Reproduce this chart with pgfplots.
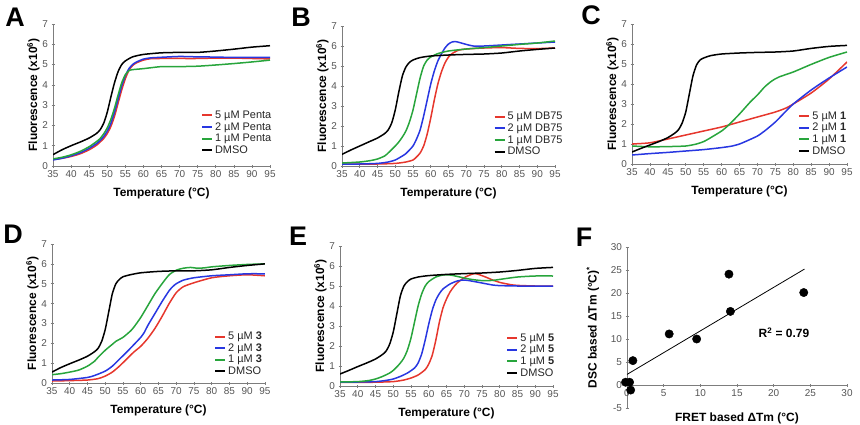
\documentclass[border=0pt]{standalone}
\usepackage{fontspec}
\setmainfont{Liberation Sans}
\usepackage{pgfplots}
\pgfplotsset{compat=1.18}
\definecolor{cred}{RGB}{230,55,45}
\definecolor{cblue}{RGB}{40,55,225}
\definecolor{cgreen}{RGB}{40,165,60}
\definecolor{axgray}{RGB}{125,125,125}
\definecolor{lblgray}{RGB}{85,85,85}
\pgfplotsset{
  base/.style={
    scale only axis,
    anchor=south west,
    axis line style={-, draw=axgray, line width=0.6bp},
    tick align=outside, major tick length=3bp,
    tick style={draw=axgray, line width=0.6bp},
    ticklabel style={font=\fontsize{10}{12}\selectfont, text=lblgray},
    /pgf/number format/assume math mode=true,
    label style={font=\bfseries\fontsize{12}{14}\selectfont, text=black},
  },
  panel/.style={
    base, width=214bp, height=140bp,
    axis lines=left,
    axis line style={-, draw=axgray, line width=0.6bp},
    xmin=35, xmax=95, ymin=0, ymax=7,
    xtick={35,40,...,95}, ytick={0,1,...,7},
    xlabel={Temperature (°C)},
    ylabel={Fluorescence (x10\textsuperscript{6})},
    xlabel shift=3bp, ylabel shift=-4bp,
    legend style={draw=none, fill=none, anchor=south east,
      font=\fontsize{11}{13.5}\selectfont, text=black!85, row sep=-1.5bp},
    legend cell align=left,
    legend image code/.code={\draw[##1, line width=2bp] (0bp,0bp) -- (10bp,0bp);},
  },
  curve/.style={line width=1.5bp, smooth, tension=0.4, no marks, #1},
}
\begin{document}
\begin{tikzpicture}
\useasboundingbox (0,0) rectangle (860bp,-425bp);
\tikzset{letter/.style={font=\bfseries\fontsize{27}{27}\selectfont}}
\node[letter] at (15bp,-17bp) {A};
\node[letter] at (301bp,-17bp) {B};
\node[letter] at (591bp,-15bp) {C};
\node[letter] at (13bp,-234bp) {D};
\node[letter] at (298bp,-236bp) {E};
\node[letter] at (584bp,-237bp) {F};

% ---------------- A
\begin{axis}[panel, at={(53bp,-166bp)}, height=142bp, width=217bp,
  legend style={at={(1.03,0.05)}}]
\addplot[curve=cred] coordinates {(35,0.32)(37.5,0.38)(40,0.47)(42.5,0.6)(45,0.8)(47,1.02)(48,1.18)(49,1.35)(50,1.6)(51,1.95)(52,2.45)(53,3.1)(54,3.75)(55,4.3)(56,4.72)(57,4.95)(58,5.08)(60,5.22)(62,5.29)(65,5.3)(70,5.3)(75,5.3)(80,5.32)(85,5.32)(90,5.3)(95,5.28)};
\addlegendentry{5 µM Penta}
\addplot[curve=cblue] coordinates {(35,0.3)(37.5,0.38)(40,0.5)(42.5,0.65)(45,0.87)(47,1.1)(48,1.25)(49,1.45)(50,1.72)(51,2.1)(52,2.65)(53,3.3)(54,3.95)(55,4.45)(56,4.8)(57,5.0)(58,5.12)(60,5.27)(62,5.33)(65,5.36)(70,5.4)(75,5.38)(80,5.37)(85,5.35)(90,5.35)(95,5.35)};
\addlegendentry{2 µM Penta}
\addplot[curve=cgreen] coordinates {(35,0.35)(37.5,0.43)(40,0.55)(42.5,0.72)(45,0.95)(47,1.2)(48,1.35)(49,1.58)(50,1.88)(51,2.3)(52,2.85)(53,3.5)(54,4.1)(55,4.5)(56,4.7)(57,4.75)(60,4.8)(65,4.9)(70,4.9)(75,4.92)(80,4.98)(85,5.05)(90,5.13)(95,5.22)};
\addlegendentry{1 µM Penta}
\addplot[curve=black] coordinates {(35,0.56)(37.5,0.8)(40,1.0)(42.5,1.18)(45,1.38)(47,1.6)(48,1.78)(49,2.1)(50,2.65)(51,3.4)(52,4.1)(53,4.65)(54,5.0)(55,5.18)(57,5.38)(60,5.5)(65,5.58)(70,5.6)(75,5.6)(80,5.67)(85,5.76)(90,5.86)(95,5.93)};
\addlegendentry{DMSO}
\end{axis}

% ---------------- B
\begin{axis}[panel, at={(342bp,-166bp)}, width=213bp,
  legend style={at={(1.06,0.04)}}]
\addplot[curve=cred] coordinates {(35,0.1)(40,0.1)(45,0.1)(50,0.13)(53,0.2)(55,0.3)(56,0.45)(57,0.65)(58,1.0)(59,1.6)(60,2.4)(61,3.3)(62,4.1)(63,4.7)(64,5.15)(65,5.45)(66,5.62)(67,5.72)(68,5.8)(70,5.85)(75,5.9)(80,5.92)(85,5.88)(90,5.87)(95,5.9)};
\addlegendentry{5 µM DB75}
\addplot[curve=cblue] coordinates {(35,0.1)(40,0.1)(45,0.13)(48,0.2)(50,0.3)(52,0.5)(53,0.62)(54,0.8)(55,1.0)(56,1.35)(57,1.8)(58,2.5)(59,3.3)(60,4.1)(61,4.75)(62,5.25)(63,5.6)(64,5.9)(65,6.1)(66,6.2)(67,6.22)(68,6.18)(70,6.08)(72,6.0)(75,6.0)(80,6.05)(85,6.1)(90,6.15)(95,6.2)};
\addlegendentry{2 µM DB75}
\addplot[curve=cgreen] coordinates {(35,0.15)(40,0.2)(43,0.27)(45,0.35)(47,0.5)(48,0.65)(49,0.82)(50,1.0)(51,1.2)(52,1.45)(53,1.75)(54,2.2)(55,2.8)(56,3.6)(57,4.4)(58,5.0)(59,5.3)(60,5.45)(62,5.62)(65,5.75)(70,5.85)(75,5.92)(80,6.0)(85,6.08)(90,6.15)(95,6.25)};
\addlegendentry{1 µM DB75}
\addplot[curve=black] coordinates {(35,0.58)(37.5,0.8)(40,1.0)(42.5,1.2)(45,1.4)(47,1.62)(48,1.8)(49,2.15)(50,2.8)(51,3.7)(52,4.5)(53,4.95)(54,5.18)(55,5.3)(57,5.42)(60,5.5)(65,5.55)(70,5.58)(75,5.6)(80,5.65)(85,5.75)(90,5.83)(95,5.9)};
\addlegendentry{DMSO}
\end{axis}

% ---------------- C
\begin{axis}[panel, at={(632bp,-164bp)}, width=215bp,
  legend style={at={(1.02,0.03)}}]
\addplot[curve=cred] coordinates {(35,1.0)(40,1.06)(45,1.25)(50,1.45)(55,1.65)(60,1.85)(65,2.1)(70,2.35)(75,2.6)(78,2.8)(80,3.0)(85,3.55)(90,4.25)(95,5.1)};
\addlegendentry{5 µM \textbf{1}}
\addplot[curve=cblue] coordinates {(35,0.45)(40,0.52)(45,0.58)(50,0.65)(55,0.72)(60,0.82)(63,0.9)(65,1.0)(67,1.15)(70,1.4)(72,1.65)(75,2.1)(78,2.65)(80,3.0)(85,3.7)(90,4.3)(95,4.85)};
\addlegendentry{2 µM \textbf{1}}
\addplot[curve=cgreen] coordinates {(35,0.9)(40,0.86)(45,0.87)(50,0.9)(53,1.0)(55,1.12)(57,1.32)(60,1.65)(62,1.95)(65,2.5)(68,3.1)(70,3.45)(72,3.85)(74,4.15)(76,4.35)(80,4.6)(85,4.98)(90,5.33)(95,5.6)};
\addlegendentry{1 µM \textbf{1}}
\addplot[curve=black] coordinates {(35,0.6)(37.5,0.78)(40,0.95)(42.5,1.12)(45,1.32)(47,1.55)(48,1.72)(49,2.05)(50,2.6)(51,3.5)(52,4.4)(53,4.95)(54,5.2)(55,5.3)(57,5.42)(60,5.5)(65,5.55)(70,5.58)(75,5.6)(80,5.65)(85,5.78)(90,5.88)(95,5.93)};
\addlegendentry{DMSO}
\end{axis}

% ---------------- D
\begin{axis}[panel, at={(52bp,-383bp)}, width=213bp, height=139bp,
  legend style={at={(1.01,0.02)}}]
\addplot[curve=cred] coordinates {(35,0.1)(40,0.12)(45,0.15)(48,0.22)(50,0.35)(52,0.55)(54,0.85)(56,1.2)(58,1.55)(60,1.85)(62,2.25)(64,2.75)(66,3.35)(68,4.0)(70,4.55)(72,4.85)(75,5.05)(80,5.3)(85,5.4)(90,5.45)(95,5.4)};
\addlegendentry{5 µM \textbf{3}}
\addplot[curve=cblue] coordinates {(35,0.15)(40,0.18)(45,0.28)(47,0.38)(50,0.6)(52,0.85)(54,1.2)(56,1.55)(58,1.92)(60,2.3)(61,2.55)(62,2.9)(64,3.5)(66,4.1)(68,4.65)(69,4.85)(70,5.0)(72,5.18)(75,5.3)(80,5.4)(85,5.45)(90,5.5)(95,5.5)};
\addlegendentry{2 µM \textbf{3}}
\addplot[curve=cgreen] coordinates {(35,0.42)(37.5,0.47)(40,0.55)(42.5,0.65)(45,0.85)(47,1.1)(48,1.3)(50,1.65)(52,1.95)(53,2.1)(55,2.3)(57,2.6)(58,2.8)(60,3.3)(62,3.9)(64,4.5)(66,5.0)(68,5.45)(70,5.68)(72,5.78)(74,5.82)(76,5.78)(78,5.8)(80,5.85)(85,5.92)(90,5.97)(95,6.0)};
\addlegendentry{1 µM \textbf{3}}
\addplot[curve=black] coordinates {(35,0.55)(37.5,0.78)(40,0.97)(42.5,1.15)(45,1.35)(47,1.58)(48,1.75)(49,2.1)(50,2.7)(51,3.6)(52,4.5)(53,5.0)(54,5.22)(55,5.35)(57,5.45)(60,5.55)(65,5.62)(70,5.65)(75,5.65)(80,5.7)(85,5.82)(90,5.92)(95,6.0)};
\addlegendentry{DMSO}
\end{axis}

% ---------------- E
\begin{axis}[panel, at={(340bp,-386bp)}, width=213bp,
  legend style={at={(1.03,0.03)}}]
\addplot[curve=cred] coordinates {(35,0.18)(40,0.18)(45,0.19)(50,0.22)(53,0.3)(55,0.4)(57,0.55)(59,0.82)(60,1.1)(61,1.55)(62,2.3)(63,3.2)(64,3.9)(65,4.35)(66,4.7)(67,4.95)(68,5.15)(70,5.42)(72,5.58)(73,5.62)(74,5.58)(76,5.45)(78,5.3)(80,5.18)(83,5.07)(85,5.03)(90,5.0)(95,5.0)};
\addlegendentry{5 µM \textbf{5}}
\addplot[curve=cblue] coordinates {(35,0.2)(40,0.2)(45,0.22)(48,0.28)(50,0.35)(52,0.48)(54,0.65)(56,0.9)(57,1.15)(58,1.6)(59,2.3)(60,3.1)(61,3.8)(62,4.3)(63,4.62)(64,4.85)(66,5.1)(68,5.25)(70,5.3)(72,5.25)(75,5.15)(78,5.05)(80,5.02)(85,5.0)(90,5.0)(95,5.0)};
\addlegendentry{2 µM \textbf{5}}
\addplot[curve=cgreen] coordinates {(35,0.2)(40,0.22)(43,0.27)(45,0.35)(47,0.48)(49,0.65)(50,0.78)(51,0.95)(52,1.15)(53,1.4)(54,1.8)(55,2.4)(56,3.2)(57,4.0)(58,4.6)(59,5.0)(60,5.22)(62,5.45)(64,5.55)(66,5.55)(68,5.48)(70,5.4)(72,5.33)(75,5.27)(78,5.28)(80,5.33)(85,5.45)(90,5.5)(95,5.5)};
\addlegendentry{1 µM \textbf{5}}
\addplot[curve=black] coordinates {(35,0.6)(37.5,0.78)(40,0.97)(42.5,1.15)(45,1.35)(47,1.58)(48,1.75)(49,2.1)(50,2.7)(51,3.6)(52,4.5)(53,5.0)(54,5.22)(55,5.35)(57,5.45)(60,5.52)(65,5.58)(70,5.62)(75,5.65)(80,5.7)(85,5.78)(90,5.88)(95,5.93)};
\addlegendentry{DMSO}
\end{axis}

% ---------------- F
\begin{axis}[base, at={(627bp,-408bp)}, width=220bp, height=161bp,
  axis x line=middle, axis y line=left,
  axis line style={-, draw=axgray, line width=0.6bp},
  hide obscured x ticks=false,
  xmin=0, xmax=30, ymin=-5, ymax=30,
  xtick={0,5,...,30}, ytick={-5,0,...,30},
  xlabel={FRET based ΔTm (°C)},
  ylabel={DSC based ΔTm (°C)\textsuperscript{*}},
  xlabel style={at={(axis description cs:0.5,0)}, anchor=north, yshift=-1bp,
    font=\bfseries\fontsize{12}{14}\selectfont, text=black},
  ylabel style={font=\bfseries\fontsize{12}{14}\selectfont, text=black},
  ylabel shift=5bp,
  clip=false]
\addplot[black, line width=0.8bp] coordinates {(0,2.3) (24.2,25.2)};
\addplot[only marks, mark=*, mark size=4.2bp, black] coordinates {
(0.8,5.3) (-0.2,0.6) (0.35,0.6) (0.5,-1.1) (5.75,11.1) (9.5,10) (13.9,24.1) (14.1,16) (24.1,20.1)};
\node[font=\bfseries\fontsize{12}{14}\selectfont] at (axis cs:21.4,11.4) {R\textsuperscript{2} = 0.79};
\end{axis}
\end{tikzpicture}
\end{document}
